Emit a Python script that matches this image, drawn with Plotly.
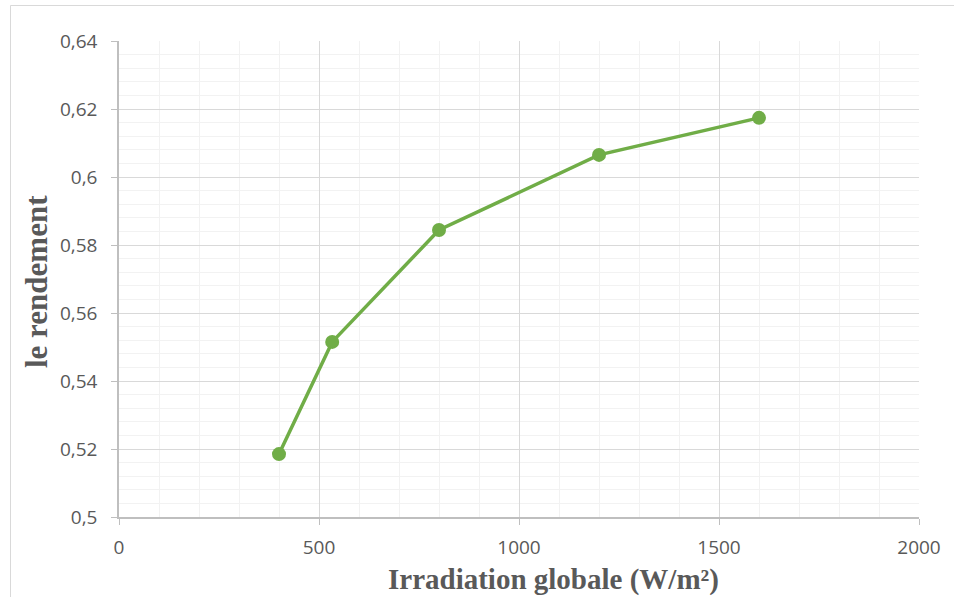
import plotly.graph_objects as go

irradiation = [400, 533, 800, 1200, 1600]
rendement = [0.5185, 0.5515, 0.5844, 0.6065, 0.6174]

x_title = "Irradiation globale (W/m²)"
y_title = "le rendement"

fig = go.Figure()
fig.add_trace(go.Scatter(
    x=irradiation, y=rendement, mode="lines+markers",
    line=dict(color="#70ad47", width=3.5),
    marker=dict(color="#70ad47", size=14),
    showlegend=False,
))

axis_font = dict(family="Open Sans, Liberation Sans, sans-serif", size=19, color="#595959")
xt_font = dict(family="Liberation Serif, Times New Roman, serif", size=29, color="#595959")
yt_font = dict(family="Liberation Serif, Times New Roman, serif", size=31, color="#595959")

L, T, W, H = 119, 41, 800, 476

fig.update_layout(
    width=954, height=597,
    margin=dict(l=L, r=954 - L - W, t=T, b=597 - T - H),
    paper_bgcolor="white", plot_bgcolor="white",
    separators=", ",
    xaxis=dict(
        range=[0, 2000], dtick=500, tick0=0,
        showgrid=True, gridcolor="#d9d9d9", gridwidth=1,
        minor=dict(dtick=100, showgrid=True, gridcolor="#f2f2f2", gridwidth=1),
        showline=True, linecolor="#bfbfbf", linewidth=1.5,
        ticks="outside", ticklen=6, tickcolor="#bfbfbf",
        tickfont=axis_font, zeroline=False, ticklabelstandoff=6,
    ),
    yaxis=dict(
        range=[0.5, 0.64], dtick=0.02, tick0=0.5,
        showgrid=True, gridcolor="#d9d9d9", gridwidth=1,
        minor=dict(dtick=0.004, showgrid=True, gridcolor="#f2f2f2", gridwidth=1),
        showline=True, linecolor="#bfbfbf", linewidth=1.5,
        ticks="outside", ticklen=6, tickcolor="#bfbfbf",
        tickfont=axis_font, zeroline=False, ticklabelstandoff=10,
    ),
    annotations=[
        dict(text="<b>" + x_title + "</b>", xref="paper", yref="paper",
             x=(553 - L) / W, y=(T + H - 579) / H, showarrow=False,
             xanchor="center", yanchor="middle", font=xt_font),
        dict(text="<b>" + y_title + "</b>", xref="paper", yref="paper",
             x=(36 - L) / W, y=(T + H - 282) / H, showarrow=False, textangle=-90,
             xanchor="center", yanchor="middle", font=yt_font),
    ],
    shapes=[
        dict(type="line", xref="paper", yref="paper",
             x0=(10.5 - L) / W, x1=(10.5 - L) / W,
             y0=-(597 - T - H) / H, y1=(T + H - 5.5) / H,
             line=dict(color="#d9d9d9", width=1)),
        dict(type="line", xref="paper", yref="paper",
             x0=(10.5 - L) / W, x1=(954 - L) / W,
             y0=(T + H - 5.5) / H, y1=(T + H - 5.5) / H,
             line=dict(color="#d9d9d9", width=1)),
    ],
)

fig.write_html("out.html")
